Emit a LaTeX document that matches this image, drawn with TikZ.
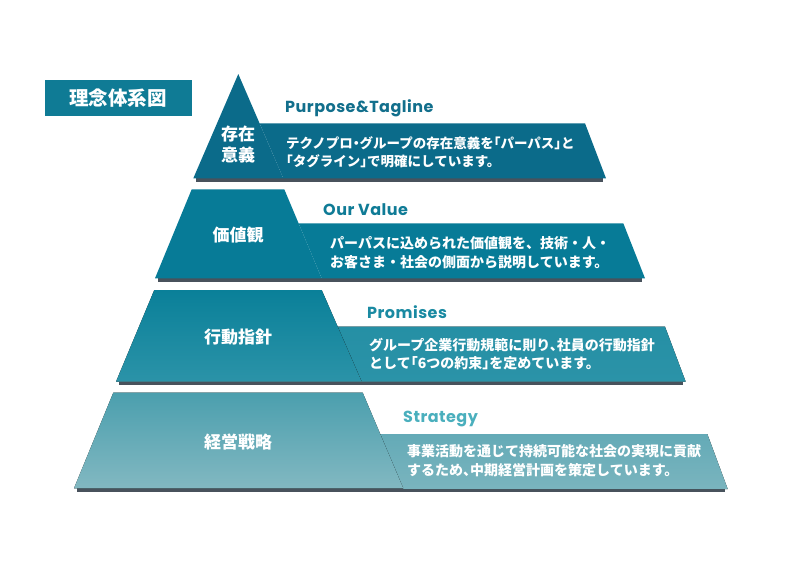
\documentclass[tikz,border=0pt]{standalone}
\usepackage{fontspec}
\newfontfamily\jp{Noto Sans CJK JP}
\newfontfamily\en{Poppins}[LetterSpace=3]
\newcommand\jpLB{\kern-.5em「}
\newcommand\jpRB{」\kern-.5em}
\newcommand\jpCM{、\kern-.5em}
\newcommand\jpDT{\kern-.25em・\kern-.25em}
\definecolor{titlec}{HTML}{0F7B95}
\definecolor{ca}{HTML}{0B6B8A}
\definecolor{cb}{HTML}{077B97}
\definecolor{cctop}{HTML}{0A8099}
\definecolor{ccbot}{HTML}{2B93A8}
\definecolor{ccband}{HTML}{2891A6}
\definecolor{cdtop}{HTML}{4B9FAE}
\definecolor{cdbot}{HTML}{82B8C1}
\definecolor{shadowc}{HTML}{48525C}
\definecolor{ena}{HTML}{126F8C}
\definecolor{enb}{HTML}{0F7B96}
\definecolor{enc}{HTML}{1A8AA2}
\definecolor{end}{HTML}{4AAFBD}
\begin{document}
\begin{tikzpicture}[x=1pt,y=-1pt,
  tierlabel/.style={text=white, font=\jp\bfseries\fontsize{17}{21}\selectfont, align=center, inner sep=0pt},
  entitle/.style={anchor=base west, inner sep=0pt, font=\en\bfseries\fontsize{16}{18}\selectfont},
  bodytext/.style={anchor=west, inner sep=0pt, text=white, align=left, font=\jp\bfseries\fontsize{14}{18.7}\selectfont},
  shadowstrip/.style={fill=shadowc}]
\useasboundingbox (0,0) rectangle (800,562);
% title
\fill[titlec] (45,80) rectangle (191.7,116);
\node[text=white, font=\jp\bfseries\fontsize{19.5}{22}\selectfont, inner sep=0pt] (title) at (118,98) {理念体系図};
% tier 1
\fill[shadowstrip] (196,178) rectangle (603,182);
\fill[ca] (259.6,123.3) -- (585,123.3) -- (606,178.3) -- (283.3,178.3) -- cycle;
\fill[ca] (238.3,74) -- (283.3,178.3) -- (193.3,178.3) -- cycle;
% tier 2
\fill[shadowstrip] (158,278) rectangle (642,282);
\fill[cb] (298.6,223.3) -- (623.3,223.3) -- (645,278.3) -- (321.7,278.3) -- cycle;
\fill[cb] (191.7,189.3) -- (284.3,189.3) -- (321.7,278.3) -- (155,278.3) -- cycle;
% tier 3
\fill[shadowstrip] (119,381.5) rectangle (683,385.2);
\fill[top color=ccband!90!cctop, bottom color=ccbot] (337.7,326.7) -- (665,326.7) -- (685.7,381.7) -- (361.7,381.7) -- cycle;
\fill[top color=cctop, bottom color=ccbot] (154.3,290) -- (321.7,290) -- (361.7,381.7) -- (116,381.7) -- cycle;
% tier 4
\fill[shadowstrip] (77,488.3) rectangle (725,492);
\fill[top color=cdtop!55!cdbot, bottom color=cdbot!85!cdtop] (380.2,434) -- (707.3,434) -- (727.7,489) -- (403.3,489) -- cycle;
\fill[top color=cdtop, bottom color=cdbot] (113.3,392.7) -- (362.7,392.7) -- (403.3,488.3) -- (74,488.3) -- cycle;
% tier labels
\node[tierlabel] (l1) at (238,145) {存在\\意義};
\node[tierlabel] (l2) at (238,235) {価値観};
\node[tierlabel] (l3) at (238,337.3) {行動指針};
\node[tierlabel] (l4) at (238,442) {経営戦略};
% english titles
\node[entitle, text=ena] (e1) at (285,112.3) {Purpose\&Tagline};
\node[entitle, text=enb] (e2) at (323,215.5) {Our Value};
\node[entitle, text=enc] (e3) at (367,318) {Promises};
\node[entitle, text=end] (e4) at (403,422) {Strategy};
% body texts
\node[bodytext, font=\jp\bfseries\fontsize{13.5}{18.7}\selectfont] (b1) at (286,152.3) {テクノプロ\jpDT グループの存在意義を\jpLB パーパス\jpRB と\\\jpLB タグライン\jpRB で明確にしています。};
\node[bodytext] (b2) at (330,252.5) {パーパスに込められた価値観を、技術・人・\\お客さま・社会の側面から説明しています。};
\node[bodytext] (b3) at (369,354) {グループ企業行動規範に則り\jpCM 社員の行動指針\\として\jpLB 6つの約束\jpRB を定めています。};
\node[bodytext] (b4) at (407,461) {事業活動を通じて持続可能な社会の実現に貢献\\するため\jpCM 中期経営計画を策定しています。};
\end{tikzpicture}
\end{document}
